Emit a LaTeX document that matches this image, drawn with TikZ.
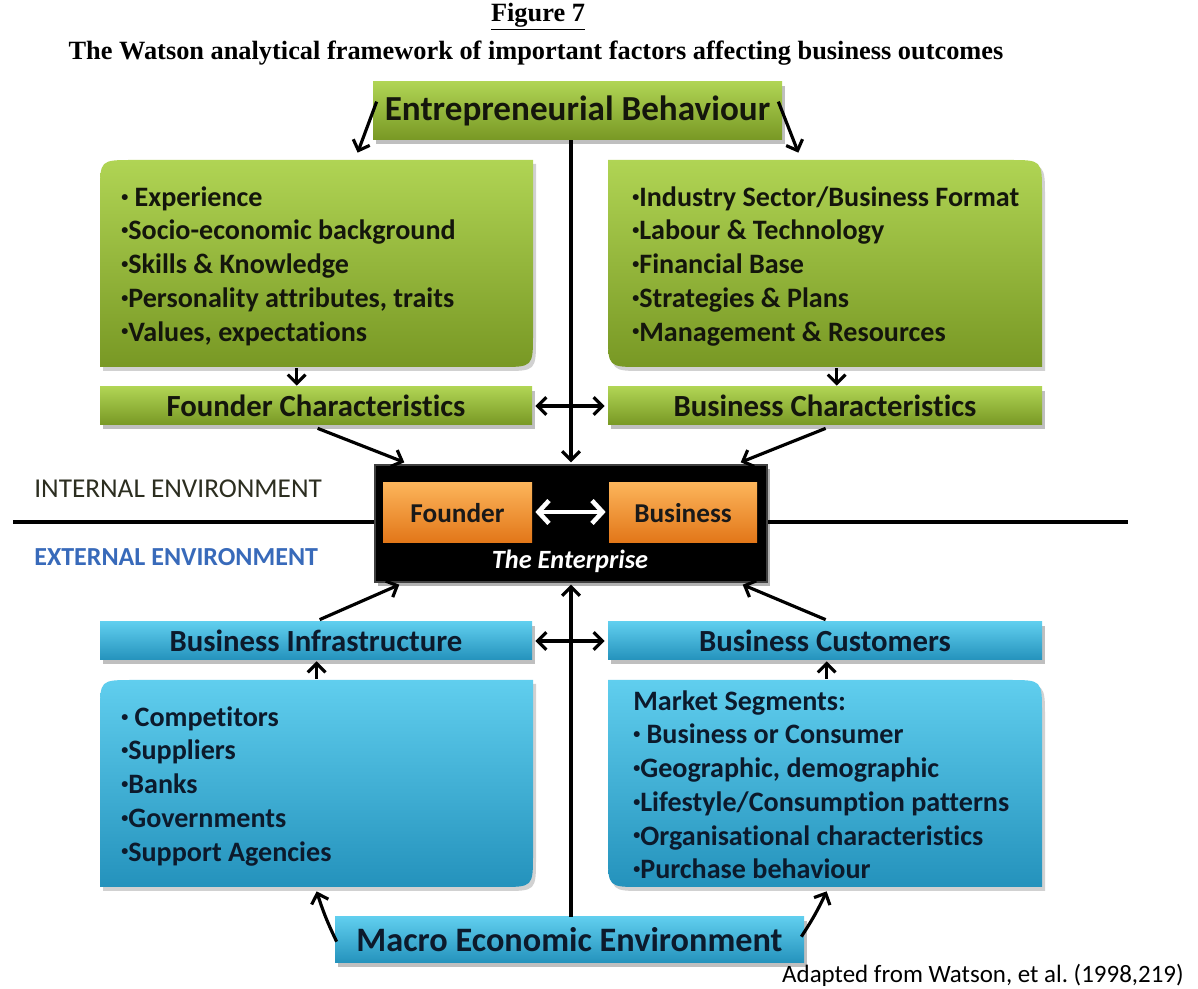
\documentclass[tikz,border=0pt]{standalone}
\usepackage{fontspec}
\setmainfont{Carlito}[Ligatures=NoCommon]
\newfontfamily\titlefont{Liberation Serif}
\usetikzlibrary{arrows.meta,calc,fit,shadows}
\frenchspacing
\definecolor{gtop}{RGB}{176,212,84}
\definecolor{gmid}{RGB}{150,186,56}
\definecolor{gbot}{RGB}{120,152,36}
\definecolor{btop}{RGB}{96,206,238}
\definecolor{bmid}{RGB}{58,182,222}
\definecolor{bbot}{RGB}{36,146,188}
\definecolor{otop}{RGB}{252,180,90}
\definecolor{omid}{RGB}{246,150,50}
\definecolor{obot}{RGB}{226,118,24}
\definecolor{gtext}{RGB}{20,22,12}
\definecolor{btext}{RGB}{12,26,44}
\definecolor{intcol}{RGB}{44,46,32}
\definecolor{extcol}{RGB}{56,106,186}
\newcommand{\sz}[2]{\fontsize{#1}{#2}\selectfont}
\newcommand{\bul}{\raisebox{0.18em}{\scalebox{0.5}{•}}}
% diagonal rounded boxes, image coordinates (y downwards)
\newcommand{\boxTLBR}[5]{%
  \fill[black,opacity=0.18] ({#1+3},{#4+4}) -- ({#1+3},{#2+4+33}) .. controls ({#1+3},{#2+4}) .. ({#1+3+33},{#2+4}) -- ({#3+3},{#2+4}) -- ({#3+3},{#4+4-33}) .. controls ({#3+3},{#4+4}) .. ({#3+3-33},{#4+4}) -- cycle;
  \shade[#5] (#1,#4) -- (#1,{#2+33}) .. controls (#1,#2) .. ({#1+33},#2) -- (#3,#2) -- (#3,{#4-33}) .. controls (#3,#4) .. ({#3-33},#4) -- cycle;}
\newcommand{\boxTRBL}[5]{%
  \fill[black,opacity=0.18] ({#1+3},{#2+4}) -- ({#3+3-33},{#2+4}) .. controls ({#3+3},{#2+4}) .. ({#3+3},{#2+4+33}) -- ({#3+3},{#4+4}) -- ({#1+3+33},{#4+4}) .. controls ({#1+3},{#4+4}) .. ({#1+3},{#4+4-33}) -- cycle;
  \shade[#5] (#1,#2) -- ({#3-33},#2) .. controls (#3,#2) .. (#3,{#2+33}) -- (#3,#4) -- ({#1+33},#4) .. controls (#1,#4) .. (#1,{#4-33}) -- cycle;}
\tikzset{
  x=0.02cm, y=-0.02cm,
  barbtip/.tip={Straight Barb[length=5pt,width=10pt,line width=1.8pt]},
  wbarbtip/.tip={Straight Barb[length=6pt,width=13pt,line width=2.6pt]},
  gshade/.style={top color=gtop, middle color=gmid, bottom color=gbot},
  bshade/.style={top color=btop, middle color=bmid, bottom color=bbot},
  oshade/.style={top color=otop, middle color=omid, bottom color=obot},
  bar/.style={inner sep=0pt,
    drop shadow={shadow xshift=1.5pt, shadow yshift=-2pt, opacity=0.25, fill=black}},
  gbar/.style={bar, gshade},
  bbar/.style={bar, bshade},
  obar/.style={inner sep=0pt, oshade},
  ghost/.style={inner sep=0pt, draw=none},
  bartext/.style={inner sep=0pt, font=\bfseries\sz{17.5}{21}},
  listtext/.style={inner sep=0pt, anchor=north west, align=left, font=\bfseries\sz{16}{19.2}},
  arr/.style={line width=1.8pt, -barbtip},
  darr/.style={line width=1.8pt, barbtip-barbtip},
  warr/.style={white, line width=2.6pt, wbarbtip-wbarbtip},
  envline/.style={line width=2.4pt}
}
\begin{document}
\begin{tikzpicture}
\useasboundingbox (0,0) rectangle (1198,989);
\fill[white] (0,0) rectangle (1198,989);

% title
\node[inner sep=0pt, font=\titlefont\bfseries\sz{15}{18}] (fig) at (538,17) {\underline{Figure 7}};
\node[inner sep=0pt, font=\titlefont\bfseries\sz{15}{18}] (ttl) at (536,53) {The Watson analytical framework of important factors affecting business outcomes};

% environment line
\coordinate (hl) at (13,522);
\coordinate (hr) at (1128,522);

% top bar
\node[gbar, fit={(373,82)(782,140)}] (eb) {};
\node[inner sep=0pt, text=gtext, font=\bfseries\sz{20}{24}] (ebt) at (eb.center) {Entrepreneurial Behaviour};

% big green boxes
\boxTLBR{100}{160}{533}{367}{gshade}
\node[ghost, fit={(100,160)(533,367)}] (lbox) {};
\node[listtext, text=gtext] (ltxt) at (121,186) {\bul\ Experience\\\bul Socio-economic background\\\bul Skills \& Knowledge\\\bul Personality attributes, traits\\\bul Values, expectations};
\boxTRBL{608}{160}{1042}{367}{gshade}
\node[ghost, fit={(608,160)(1042,367)}] (rbox) {};
\node[listtext, text=gtext] (rtxt) at (632,186) {\bul Industry Sector/Business Format\\\bul Labour \& Technology\\\bul Financial Base\\\bul Strategies \& Plans\\\bul Management \& Resources};

% characteristic bars
\node[gbar, fit={(100,387)(532,425)}] (fc) {};
\node[bartext, text=gtext] (fct) at (fc.center) {Founder Characteristics};
\node[gbar, fit={(608,387)(1042,425)}] (bc) {};
\node[bartext, text=gtext] (bct) at (bc.center) {Business Characteristics};

% blue bars
\node[bbar, fit={(100,622)(532,660)}] (bi) {};
\node[bartext, text=btext] (bit) at (bi.center) {Business Infrastructure};
\node[bbar, fit={(608,622)(1042,660)}] (bcu) {};
\node[bartext, text=btext] (bcut) at (bcu.center) {Business Customers};

% big blue boxes
\boxTLBR{100}{680}{533}{887}{bshade}
\node[ghost, fit={(100,680)(533,887)}] (llbox) {};
\node[listtext, text=btext] (lltxt) at (121,706) {\bul\ Competitors\\\bul Suppliers\\\bul Banks\\\bul Governments\\\bul Support Agencies};
\boxTRBL{608}{680}{1042}{887}{bshade}
\node[ghost, fit={(608,680)(1042,887)}] (lrbox) {};
\node[listtext, text=btext] (lrtxt) at (633,690) {Market Segments:\\\bul\ Business or Consumer\\\bul Geographic, demographic\\\bul Lifestyle/Consumption patterns\\\bul Organisational characteristics\\\bul Purchase behaviour};

% macro bar
\node[bbar, fit={(335,917)(804,963)}] (mac) {};
\node[inner sep=0pt, text=btext, font=\bfseries\sz{19.5}{23}] (mact) at (mac.center) {Macro Economic Environment};

% enterprise
\draw[envline] (hl) -- (375,522);
\draw[envline] (767,522) -- (hr);
\node[inner sep=0pt, fill=black, draw=black!75, line width=0.8pt, fit={(375,465)(767,582)},
  drop shadow={shadow xshift=1.5pt, shadow yshift=-2pt, opacity=0.3, fill=black}] (ent) {};
\node[obar, fit={(383,483)(532,543)}] (fo) {};
\node[inner sep=0pt, text=black!90, font=\bfseries\sz{15.5}{19}] (fot) at (fo.center) {Founder};
\node[obar, fit={(609,483)(757,543)}] (bu) {};
\node[inner sep=0pt, text=black!90, font=\bfseries\sz{15.5}{19}] (but) at (bu.center) {Business};
\node[inner sep=0pt, text=white, font=\bfseries\itshape\sz{15}{18}] (entt) at (570,561) {The Enterprise};
\draw[warr] ($(fo.east)+(3,-1)$) -- ($(bu.west)+(-3,-1)$);

% environment labels
\node[inner sep=0pt, anchor=west, text=intcol, font=\sz{15.5}{18}] (int) at (34,489) {INTERNAL ENVIRONMENT};
\node[inner sep=0pt, anchor=west, text=extcol, font=\bfseries\sz{14.8}{18}] (ext) at (34,557) {EXTERNAL ENVIRONMENT};

% source
\node[inner sep=0pt, anchor=east, font=\sz{14.2}{17}] (src) at (1184,975) {Adapted from Watson, et al. (1998,219)};

% connectors
\draw[arr] ($(eb.north west)+(4,20)$) -- ($(lbox.north west)+(258,-7)$);
\draw[arr] ($(eb.north east)+(-4,20)$) -- ($(rbox.north east)+(-244,-7)$);
\draw[arr] (ent.north |- eb.south) -- ($(ent.north)+(0,-2)$);
\draw[arr] ($(lbox.south west)+(197,1)$) -- ($(fc.north west)+(197,-1)$);
\draw[arr] ($(rbox.south west)+(229,1)$) -- ($(bc.north west)+(229,-1)$);
\draw[darr] ($(fc.east)+(3,0)$) -- ($(bc.west)+(-3,0)$);
\draw[arr] ($(fc.south west)+(218,3)$) -- ($(ent.north west)+(30,-2)$);
\draw[arr] ($(bc.south west)+(218,3)$) -- ($(ent.north east)+(-27,-2)$);
\draw[arr] ($(bi.north west)+(220,-2)$) -- ($(ent.south west)+(25,2)$);
\draw[arr] ($(bcu.north west)+(218,-2)$) -- ($(ent.south east)+(-25,2)$);
\draw[arr] (ent.south |- mac.north) -- ($(ent.south)+(0,2)$);
\draw[darr] ($(bi.east)+(3,0)$) -- ($(bcu.west)+(-3,0)$);
\draw[arr] ($(llbox.north west)+(217,-1)$) -- ($(bi.south west)+(217,1)$);
\draw[arr] ($(lrbox.north west)+(219,-1)$) -- ($(bcu.south west)+(219,1)$);
\draw[arr] ($(mac.north west)+(2,25)$) to[bend left=4] ($(llbox.south west)+(217,4)$);
\draw[arr] ($(mac.north east)+(-3,20)$) to[bend right=4] ($(lrbox.south west)+(219,4)$);
\end{tikzpicture}
\end{document}
